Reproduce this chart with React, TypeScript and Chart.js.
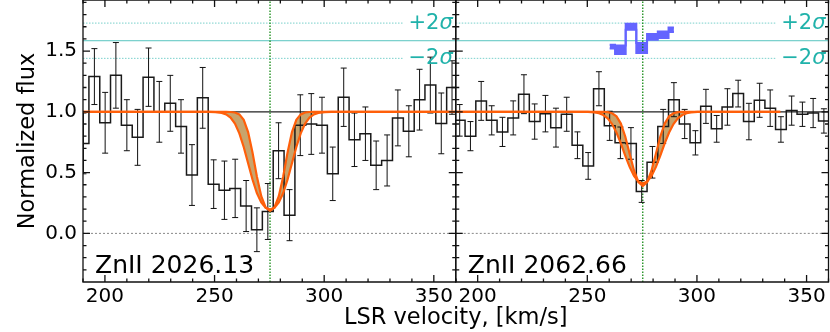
import { useEffect, useRef } from 'react';
import { Chart, registerables } from 'chart.js';

Chart.register(...registerables);

// ---------- axis ranges & ticks ----------
const X_MIN = 190;
const X_MAX = 360;
const Y_MIN = -0.4;
const Y_MAX = 1.92;
const X_TICKS = [200, 250, 300, 350];
const Y_TICKS = [0, 0.5, 1.0, 1.5];

// ---------- reference levels ----------
const V_LINE = 275.3;
const CONTINUUM = 1.0;
const ZERO_LEVEL = 0.0;
const RESID_LEVEL = 1.585;
const RESID_2SIGMA = 0.145;
const SIGMA_LINE_END = 336;

const LEFT_LABEL = 'ZnII 2026.13';
const RIGHT_LABEL = 'ZnII 2062.66';
const X_TITLE = 'LSR velocity, [km/s]';
const Y_TITLE = 'Normalized flux';

// ---------- ZnII 2026.13 data ----------
const LEFT_V = [190.2, 195.2, 200.1, 205.0, 210.0, 214.9, 219.9, 224.8, 229.8, 234.7, 239.7, 244.6, 249.6, 254.5, 259.4, 264.4, 269.3, 274.3, 279.2, 284.2, 289.1, 294.1, 299.0, 303.9, 308.9, 313.8, 318.8, 323.7, 328.7, 333.6, 338.6, 343.5, 348.4, 353.4, 358.3];
const LEFT_FLUX = [0.74, 1.29, 0.91, 1.30, 0.89, 0.79, 1.285, 1.00, 1.07, 0.88, 0.48, 1.115, 0.405, 0.355, 0.37, 0.225, 0.03, 0.18, 0.68, 0.15, 0.89, 0.90, 0.89, 0.49, 1.12, 0.77, 0.82, 0.56, 0.60, 0.95, 0.84, 1.10, 1.22, 0.905, 1.20];
const LEFT_ERR = [0.25, 0.23, 0.25, 0.27, 0.21, 0.23, 0.24, 0.25, 0.23, 0.22, 0.25, 0.25, 0.20, 0.24, 0.24, 0.21, 0.18, 0.23, 0.23, 0.21, 0.25, 0.25, 0.23, 0.22, 0.24, 0.22, 0.22, 0.20, 0.21, 0.23, 0.21, 0.25, 0.23, 0.25, 0.22];

// ---------- ZnII 2062.66 data ----------
const RIGHT_V = [191.8, 196.7, 201.6, 206.4, 211.3, 216.2, 221.1, 226.0, 230.9, 235.7, 240.6, 245.5, 250.4, 255.3, 260.2, 265.1, 269.9, 274.8, 279.7, 284.6, 289.5, 294.4, 299.3, 304.1, 309.0, 313.9, 318.8, 323.7, 328.6, 333.4, 338.3, 343.2, 348.1, 353.0, 357.9];
const RIGHT_FLUX = [0.93, 0.80, 1.09, 0.93, 0.835, 0.95, 1.145, 0.92, 0.985, 0.87, 0.98, 0.725, 0.555, 1.19, 0.885, 0.745, 0.74, 0.345, 0.585, 0.88, 1.10, 0.90, 0.745, 1.045, 0.86, 1.04, 1.15, 0.92, 1.095, 1.03, 0.855, 1.01, 0.98, 0.99, 0.925];
const RIGHT_ERR = [0.13, 0.12, 0.16, 0.12, 0.12, 0.14, 0.16, 0.145, 0.15, 0.16, 0.14, 0.11, 0.11, 0.14, 0.12, 0.13, 0.13, 0.09, 0.13, 0.14, 0.14, 0.12, 0.10, 0.14, 0.11, 0.15, 0.11, 0.15, 0.14, 0.15, 0.105, 0.12, 0.10, 0.12, 0.10];

// ---------- model profiles (band between two fits) ----------
const MODEL_V_LEFT = [190, 247.3, 250.3, 253.3, 255.3, 257.3, 259.3, 261.3, 263.3, 265.3, 267.3, 269.3, 271.3, 273.3, 275.3, 277.3, 279.3, 281.3, 283.3, 285.3, 287.3, 289.3, 291.3, 293.3, 295.3, 297.3, 300.3, 303.3, 360];
const MODEL_V_RIGHT = [190, 247.3, 250.3, 253.3, 255.3, 257.3, 259.3, 261.3, 263.3, 265.3, 267.3, 269.3, 271.3, 273.3, 275.3, 277.3, 279.3, 281.3, 283.3, 285.3, 287.3, 289.3, 291.3, 293.3, 295.3, 297.3, 300.3, 303.3, 338];
const LEFT_MODEL_NARROW = [1, 1, 1, 1, 0.9998, 0.9988, 0.9944, 0.9788, 0.9339, 0.8334, 0.6662, 0.4687, 0.3063, 0.2131, 0.1845, 0.2131, 0.3063, 0.4687, 0.6662, 0.8334, 0.9339, 0.9788, 0.9944, 0.9988, 0.9998, 1, 1, 1, 1];
const LEFT_MODEL_WIDE = [1, 0.9997, 0.9982, 0.9915, 0.979, 0.9527, 0.9036, 0.8234, 0.7106, 0.5765, 0.4431, 0.3319, 0.2541, 0.21, 0.1959, 0.21, 0.2541, 0.3319, 0.4431, 0.5765, 0.7106, 0.8234, 0.9036, 0.9527, 0.979, 0.9915, 0.9982, 0.9997, 1];
const RIGHT_MODEL_NARROW = [1, 1, 1, 1, 0.9999, 0.9993, 0.9969, 0.9881, 0.9626, 0.9035, 0.7975, 0.6557, 0.5172, 0.4226, 0.39, 0.4226, 0.5172, 0.6557, 0.7975, 0.9035, 0.9626, 0.9881, 0.9969, 0.9993, 0.9999, 1, 1, 1, 1];
const RIGHT_MODEL_WIDE = [1, 0.9998, 0.999, 0.9953, 0.9885, 0.9738, 0.946, 0.8992, 0.8295, 0.7399, 0.6406, 0.547, 0.4726, 0.4258, 0.41, 0.4258, 0.4726, 0.547, 0.6406, 0.7399, 0.8295, 0.8992, 0.946, 0.9738, 0.9885, 0.9953, 0.999, 0.9998, 1];

// ---------- residual band (ZnII 2062.66) ----------
const RESID_V = [260.2, 265.1, 269.9, 274.8, 279.7, 284.6, 289.5];
const RESID_HIGH = [1.552, 1.545, 1.725, 1.566, 1.64, 1.66, 1.694];
const RESID_LOW = [1.52, 1.475, 1.675, 1.484, 1.593, 1.607, 1.656];

// ---------- helpers ----------
const clampX = (v: number) => Math.min(X_MAX, Math.max(X_MIN, v));

function stepPoints(v: number[], f: number[]) {
  const pts: { x: number; y: number }[] = [];
  for (let i = 0; i < v.length; i++) {
    const left = i === 0 ? v[0] - (v[1] - v[0]) / 2 : (v[i - 1] + v[i]) / 2;
    const right = i === v.length - 1 ? v[i] + (v[i] - v[i - 1]) / 2 : (v[i] + v[i + 1]) / 2;
    pts.push({ x: clampX(left), y: f[i] }, { x: clampX(right), y: f[i] });
  }
  return pts;
}
const xy = (v: number[], f: number[]) => v.map((x, i) => ({ x, y: f[i] }));
const hline = (y: number, x0: number, x1: number) => [{ x: x0, y }, { x: x1, y }];

const ORANGE = '#ff5f0a';
const TAN = 'rgb(200,164,108)';
const TEAL = 'rgb(32,178,170)';
const BLUE = '#6464ff';

const FONT = "'DejaVu Sans'";

function lineDs(label: string, xAxisID: string, data: any[], extra: any = {}) {
  return {
    label,
    xAxisID,
    yAxisID: 'y',
    data,
    pointRadius: 0,
    pointHoverRadius: 0,
    borderWidth: 1,
    fill: false,
    tension: 0,
    ...extra,
  };
}

const ERRORS: Record<string, { v: number[]; f: number[]; e: number[] }> = {
  leftData: { v: LEFT_V, f: LEFT_FLUX, e: LEFT_ERR },
  rightData: { v: RIGHT_V, f: RIGHT_FLUX, e: RIGHT_ERR },
};

const errorBarPlugin = {
  id: 'errorBars',
  afterDatasetDraw(chart: any, args: any) {
    const ds = chart.data.datasets[args.index];
    const eb = ERRORS[ds.label];
    if (!eb) return;
    const xs = chart.scales[ds.xAxisID];
    const ys = chart.scales.y;
    const ctx = chart.ctx;
    ctx.save();
    ctx.beginPath();
    ctx.rect(xs.left, ys.top, xs.right - xs.left, ys.bottom - ys.top);
    ctx.clip();
    ctx.strokeStyle = '#111';
    ctx.lineWidth = 1;
    ctx.beginPath();
    for (let i = 0; i < eb.v.length; i++) {
      const px = xs.getPixelForValue(eb.v[i]);
      const top = ys.getPixelForValue(eb.f[i] + eb.e[i]);
      const bot = ys.getPixelForValue(eb.f[i] - eb.e[i]);
      ctx.moveTo(px, top);
      ctx.lineTo(px, bot);
      ctx.moveTo(px - 3, top);
      ctx.lineTo(px + 3, top);
      ctx.moveTo(px - 3, bot);
      ctx.lineTo(px + 3, bot);
    }
    ctx.stroke();
    ctx.restore();
  },
};

const framePlugin = {
  id: 'panelFrames',
  afterDatasetsDraw(chart: any) {
    const ctx = chart.ctx;
    const ys = chart.scales.y;
    const xMinor: number[] = [];
    for (let v = X_MIN; v <= X_MAX; v += 10) xMinor.push(v);
    const yMinor: number[] = [];
    for (let k = -3; k <= 19; k++) yMinor.push(k / 10);
    ctx.save();
    ctx.strokeStyle = '#111';
    ctx.lineWidth = 1.3;
    for (const id of ['x1', 'x2']) {
      const xs = chart.scales[id];
      const L = xs.left, R = xs.right, T = ys.top, B = ys.bottom;
      ctx.beginPath();
      ctx.rect(L, T, R - L, B - T);
      ctx.stroke();
      ctx.beginPath();
      for (const v of xMinor) {
        const px = xs.getPixelForValue(v);
        const len = X_TICKS.includes(v) ? 7 : 3.5;
        ctx.moveTo(px, B);
        ctx.lineTo(px, B - len);
        ctx.moveTo(px, T);
        ctx.lineTo(px, T + len);
      }
      for (const v of yMinor) {
        const py = ys.getPixelForValue(v);
        const major = Y_TICKS.some((t) => Math.abs(t - v) < 1e-6);
        const len = major ? 7 : 3.5;
        ctx.moveTo(L, py);
        ctx.lineTo(L + len, py);
        ctx.moveTo(R, py);
        ctx.lineTo(R - len, py);
      }
      ctx.stroke();
    }
    ctx.restore();
  },
};

const textPlugin = {
  id: 'panelTexts',
  afterDraw(chart: any) {
    const ctx = chart.ctx;
    const ys = chart.scales.y;
    const panels: [string, string][] = [
      ['x1', LEFT_LABEL],
      ['x2', RIGHT_LABEL],
    ];
    ctx.save();
    for (const [id, label] of panels) {
      const xs = chart.scales[id];
      ctx.fillStyle = '#000';
      ctx.font = `25px ${FONT}`;
      ctx.textAlign = 'left';
      ctx.textBaseline = 'alphabetic';
      ctx.fillText(label, xs.left + 12, ys.bottom - 9.5);

      const drawSigma = (prefix: string, val: number) => {
        const py = ys.getPixelForValue(val);
        const right = xs.right - 3;
        ctx.fillStyle = TEAL;
        ctx.textBaseline = 'middle';
        ctx.textAlign = 'right';
        ctx.font = `italic 21px ${FONT}`;
        const w = ctx.measureText('σ').width;
        ctx.fillText('σ', right, py);
        ctx.font = `21px ${FONT}`;
        ctx.fillText(prefix, right - w, py);
      };
      drawSigma('+2', RESID_LEVEL + RESID_2SIGMA);
      drawSigma('\u22122', RESID_LEVEL - RESID_2SIGMA);
    }
    ctx.restore();
  },
};

function xScale() {
  return {
    type: 'linear',
    position: 'bottom',
    stack: 'panels',
    stackWeight: 1,
    min: X_MIN,
    max: X_MAX,
    grid: { display: false, drawTicks: false, tickLength: 0 },
    border: { display: false },
    ticks: {
      includeBounds: false,
      autoSkip: false,
      maxRotation: 0,
      padding: 2.5,
      color: '#000',
      font: { size: 20, family: FONT },
      callback: (v: any) => String(v),
    },
    afterBuildTicks: (s: any) => {
      s.ticks = X_TICKS.map((value) => ({ value }));
    },
    afterFit: (s: any) => {
      s.height = 21;
      s.paddingLeft = 0;
      s.paddingRight = 0;
      s.paddingTop = 0;
      s.paddingBottom = 0;
    },
  };
}

export default function App() {
  const ref = useRef<HTMLCanvasElement>(null);

  useEffect(() => {
    document.body.style.margin = '0';
    Chart.defaults.font.family = FONT;
    Chart.defaults.color = '#000';

    const datasets: any[] = [
      // residual band (index 0,1)
      lineDs('residHigh', 'x2', xy(RESID_V, RESID_HIGH), { stepped: 'middle', borderColor: BLUE, borderWidth: 2, order: 0 }),
      lineDs('residLow', 'x2', xy(RESID_V, RESID_LOW), { stepped: 'middle', borderColor: BLUE, borderWidth: 2, backgroundColor: BLUE, fill: 0, order: 0 }),
      // left model (2,3)
      lineDs('leftNarrow', 'x1', xy(MODEL_V_LEFT, LEFT_MODEL_NARROW), { borderColor: ORANGE, borderWidth: 2.2, backgroundColor: TAN, fill: 3, order: 1 }),
      lineDs('leftWide', 'x1', xy(MODEL_V_LEFT, LEFT_MODEL_WIDE), { borderColor: ORANGE, borderWidth: 2.2, order: 2 }),
      // right model (4,5)
      lineDs('rightNarrow', 'x2', xy(MODEL_V_RIGHT, RIGHT_MODEL_NARROW), { borderColor: ORANGE, borderWidth: 2.2, backgroundColor: TAN, fill: 5, order: 1 }),
      lineDs('rightWide', 'x2', xy(MODEL_V_RIGHT, RIGHT_MODEL_WIDE), { borderColor: ORANGE, borderWidth: 2.2, order: 2 }),
      // data steps (6,7)
      lineDs('leftData', 'x1', stepPoints(LEFT_V, LEFT_FLUX), { borderColor: '#1a1a1a', borderWidth: 1.5, order: 3 }),
      lineDs('rightData', 'x2', stepPoints(RIGHT_V, RIGHT_FLUX), { borderColor: '#1a1a1a', borderWidth: 1.5, order: 3 }),
      // systemic velocity markers
      lineDs('leftV', 'x1', [{ x: V_LINE, y: Y_MIN }, { x: V_LINE, y: Y_MAX }], { borderColor: '#008000', borderWidth: 1.2, borderDash: [1.5, 1.5], order: 4 }),
      lineDs('rightV', 'x2', [{ x: V_LINE, y: Y_MIN }, { x: V_LINE, y: Y_MAX }], { borderColor: '#008000', borderWidth: 1.2, borderDash: [1.5, 1.5], order: 4 }),
      // continuum
      lineDs('leftCont', 'x1', hline(CONTINUUM, X_MIN, X_MAX), { borderColor: '#222', borderWidth: 1.1, order: 5 }),
      lineDs('rightCont', 'x2', hline(CONTINUUM, X_MIN, X_MAX), { borderColor: '#222', borderWidth: 1.1, order: 5 }),
      // zero
      lineDs('leftZero', 'x1', hline(ZERO_LEVEL, X_MIN, X_MAX), { borderColor: '#888', borderWidth: 1, borderDash: [2, 2], order: 6 }),
      lineDs('rightZero', 'x2', hline(ZERO_LEVEL, X_MIN, X_MAX), { borderColor: '#888', borderWidth: 1, borderDash: [2, 2], order: 6 }),
      // residual reference lines
      lineDs('leftRes', 'x1', hline(RESID_LEVEL, X_MIN, X_MAX), { borderColor: 'rgba(32,178,170,0.75)', borderWidth: 1, order: 6 }),
      lineDs('rightRes', 'x2', hline(RESID_LEVEL, X_MIN, X_MAX), { borderColor: 'rgba(32,178,170,0.75)', borderWidth: 1, order: 6 }),
      lineDs('leftP2', 'x1', hline(RESID_LEVEL + RESID_2SIGMA, X_MIN, SIGMA_LINE_END), { borderColor: 'rgba(32,178,170,0.6)', borderWidth: 1, borderDash: [1.5, 1.5], order: 6 }),
      lineDs('rightP2', 'x2', hline(RESID_LEVEL + RESID_2SIGMA, X_MIN, SIGMA_LINE_END), { borderColor: 'rgba(32,178,170,0.6)', borderWidth: 1, borderDash: [1.5, 1.5], order: 6 }),
      lineDs('leftM2', 'x1', hline(RESID_LEVEL - RESID_2SIGMA, X_MIN, SIGMA_LINE_END), { borderColor: 'rgba(32,178,170,0.6)', borderWidth: 1, borderDash: [1.5, 1.5], order: 6 }),
      lineDs('rightM2', 'x2', hline(RESID_LEVEL - RESID_2SIGMA, X_MIN, SIGMA_LINE_END), { borderColor: 'rgba(32,178,170,0.6)', borderWidth: 1, borderDash: [1.5, 1.5], order: 6 }),
    ];

    const chart = new Chart(ref.current as HTMLCanvasElement, {
      type: 'line',
      data: { datasets },
      options: {
        animation: false,
        responsive: false,
        devicePixelRatio: 1,
        events: [],
        layout: { padding: { top: -1.5, right: 1.5, left: 0, bottom: 0 }, autoPadding: false },
        elements: { point: { radius: 0 } },
        plugins: {
          legend: { display: false },
          tooltip: { enabled: false },
          filler: { drawTime: 'beforeDatasetsDraw' },
          title: {
            display: true,
            position: 'bottom',
            fullSize: false,
            text: X_TITLE,
            color: '#000',
            font: { size: 22.5, weight: 'normal', family: FONT },
            padding: { top: 1.5, bottom: 0.5 },
          },
        },
        scales: {
          x1: xScale(),
          x2: xScale(),
          y: {
            type: 'linear',
            position: 'left',
            min: Y_MIN,
            max: Y_MAX,
            grid: { display: false, drawTicks: false, tickLength: 0 },
            border: { display: false },
            ticks: {
              padding: 6,
              color: '#000',
              font: { size: 20, family: FONT },
              callback: (v: any) => Number(v).toFixed(1),
            },
            afterBuildTicks: (s: any) => {
              s.ticks = Y_TICKS.map((value) => ({ value }));
            },
            afterFit: (s: any) => {
              s.width = 83;
              s.paddingTop = 0;
              s.paddingBottom = 0;
              s.paddingLeft = 0;
              s.paddingRight = 0;
            },
            title: {
              display: true,
              text: Y_TITLE,
              color: '#000',
              font: { size: 22.5, family: FONT },
              padding: { top: 14.5, bottom: 0 },
            },
          },
        },
      } as any,
      plugins: [errorBarPlugin, framePlugin, textPlugin],
    });
    return () => chart.destroy();
  }, []);

  return (
    <div style={{ position: 'absolute', left: 0, top: 0, width: 830, height: 332 }}>
      <canvas ref={ref} width={830} height={332} style={{ width: 830, height: 332, display: 'block' }} />
    </div>
  );
}
